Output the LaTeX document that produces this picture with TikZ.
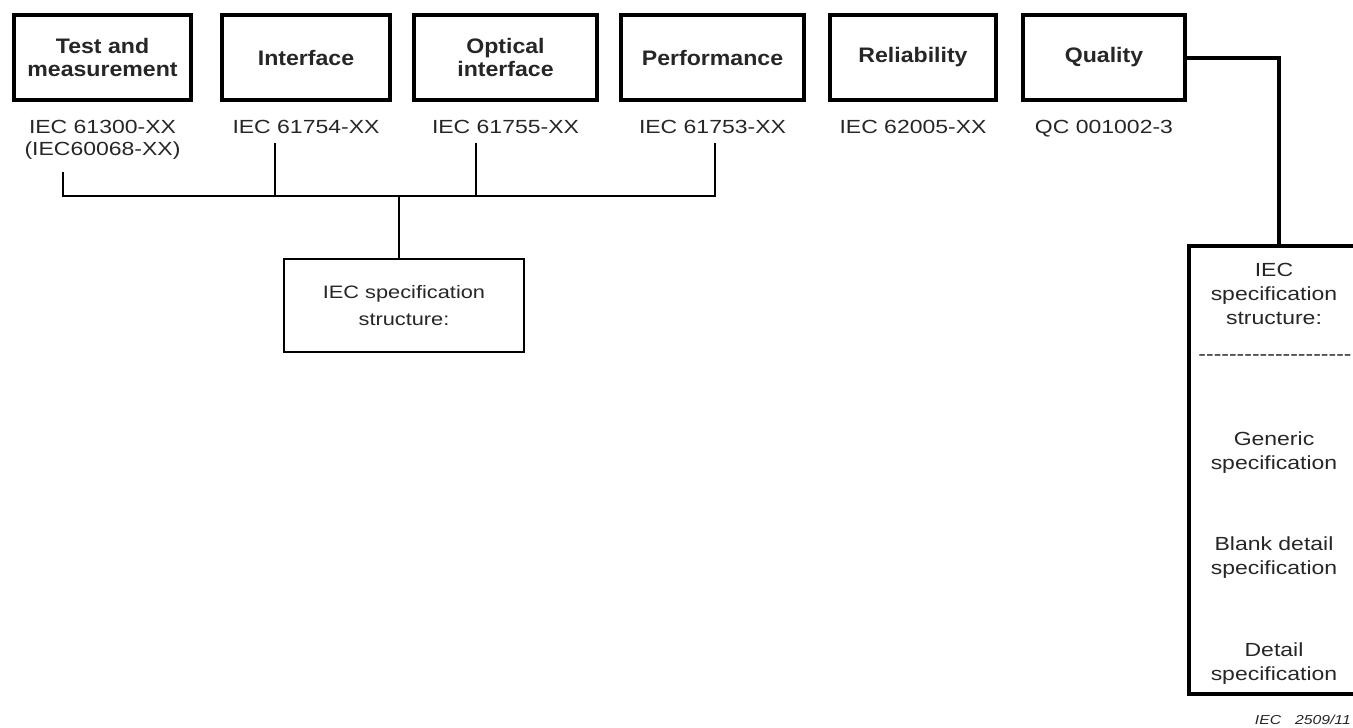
\documentclass[tikz,border=0pt]{standalone}
\usepackage{fontspec}
\setmainfont{Liberation Sans}[FakeStretch=1.21]
\newfontfamily\headfont{Liberation Sans}[FakeStretch=1.1]
\usetikzlibrary{positioning}
\definecolor{ink}{HTML}{262626}
\tikzset{
  every picture/.style={x=1pt, y=-1pt},
  topbox/.style={draw, line width=4pt, minimum height=85pt, inner sep=0pt, align=center, text=ink,
    font=\headfont\bfseries\fontsize{21}{23}\selectfont},
  code/.style={inner sep=0pt, align=center, text=ink, font=\fontsize{19}{22}\selectfont},
  bus/.style={line width=1.6pt},
  link/.style={line width=4pt},
  specbox/.style={draw, line width=2pt, align=center, minimum width=240pt, minimum height=93pt, text=ink,
    font=\fontsize{18}{27}\selectfont},
  note/.style={inner sep=0pt, align=center, text=ink, font=\fontsize{19}{24}\selectfont},
}

\begin{document}
\begin{tikzpicture}
  \clip (0,0) rectangle (1353,728);
  % top row of parts and their standards
  \foreach \i/\x/\w/\head/\std in {1/102.5/177/{Test and\\measurement}/{IEC 61300-XX\\(IEC60068-XX)},
      2/306/168/{Interface}/{IEC 61754-XX}, 3/505.5/183/{Optical\\interface}/{IEC 61755-XX},
      4/712.5/183/{Performance}/{IEC 61753-XX}, 5/913/166/{Reliability}/{IEC 62005-XX},
      6/1104/162/{Quality}/{QC 001002-3}} {
    \node[topbox, minimum width=\w pt] (b\i) at (\x,57.5) {\head};
    \node[code, below=18pt of b\i] (l\i) {\std};
  }
  % bus to the structure box
  \node[specbox] (struct) at (404,305.5) {IEC specification\\structure:};
  \coordinate (t1) at (63,172);
  \coordinate (t2) at (275,143);
  \coordinate (t3) at (476,143);
  \coordinate (t4) at (715,143);
  \coordinate (bus) at (399,196);
  \draw[bus] (t1) -- (t1 |- bus) -- (t4 |- bus) -- (t4);
  \draw[bus] (t2) -- (t2 |- bus);
  \draw[bus] (t3) -- (t3 |- bus);
  \draw[bus] (bus) -- (bus |- struct.north);
  % quality side
  \node[draw, link, minimum width=180pt, minimum height=448pt] (outline) at (1279,470) {};
  \draw[link] (b6.east) -| (outline.north);
  \node[note, anchor=north] (hdr) at (1274,263) {IEC\\specification\\structure:};
  \node[inner sep=0pt, text=ink, font=\fontsize{19}{22}\selectfont] (rule) at (1275,358) {\foreach \k in {1,...,20}{-}};
  \node[note, anchor=north] (gen) at (1274,432) {Generic\\specification};
  \node[note, anchor=north] (blank) at (1274,537) {Blank detail\\specification};
  \node[note, anchor=north] (det) at (1274,643) {Detail\\specification};
  \node[anchor=north east, inner sep=0pt, text=ink, font=\itshape\fontsize{13}{13}\selectfont] (fig) at (1351,715) {IEC\hspace{14pt}2509/11};
\end{tikzpicture}
\end{document}
